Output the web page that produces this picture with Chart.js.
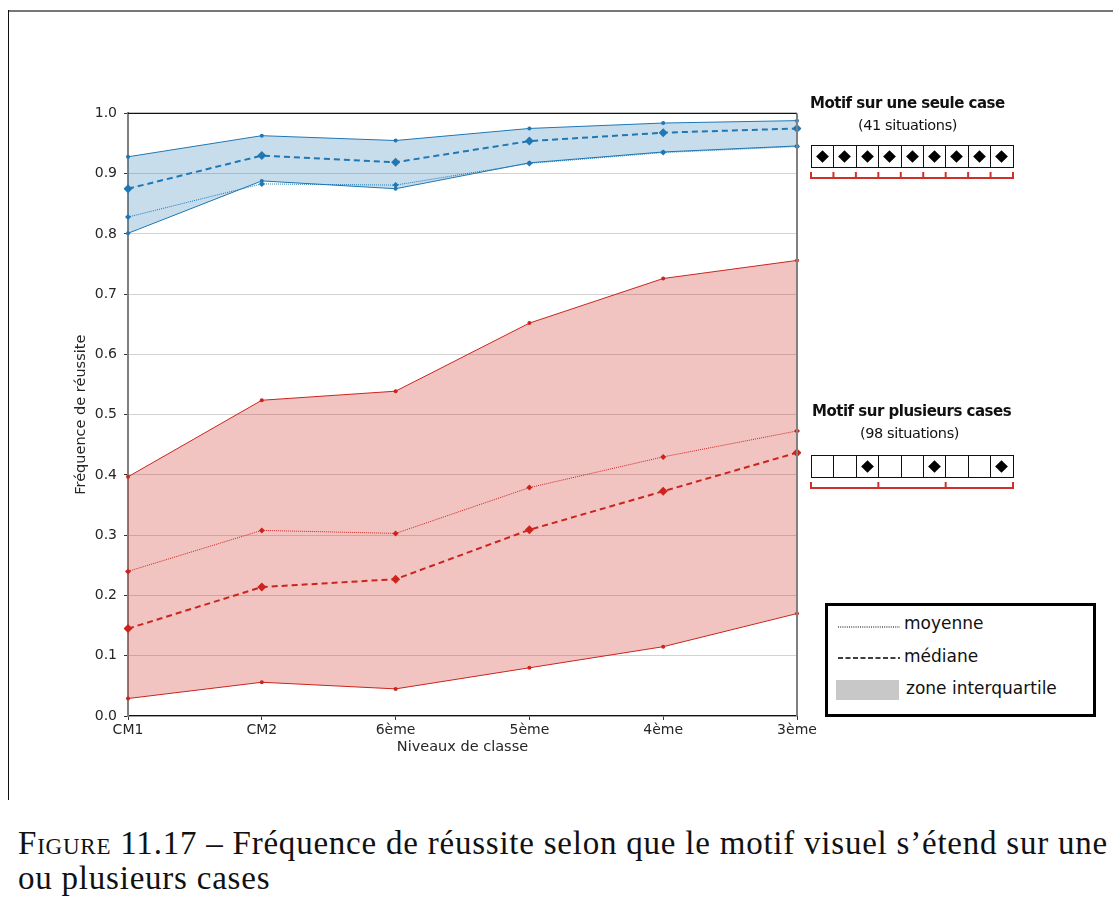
<!DOCTYPE html>
<html>
<head>
<meta charset="utf-8">
<script src="https://cdn.jsdelivr.net/npm/chart.js@4"></script>
<style>
  body { margin: 0; background: #fff; }
  #page { position: relative; width: 1113px; height: 907px; overflow: hidden; font-family: 'DejaVu Sans', sans-serif; color: #111; }
  #frameTop { position: absolute; left: 8px; top: 10px; width: 1105px; height: 2px; background: #777; }
  #frameLeft { position: absolute; left: 8px; top: 10px; width: 1px; height: 790px; background: #111; }
  #chartBox { position: absolute; left: 70px; top: 98px; width: 750px; height: 673px; }
  .title { position: absolute; font-weight: bold; font-size: 15px; letter-spacing: -0.5px; white-space: nowrap; }
  .sub { position: absolute; font-size: 14.5px; letter-spacing: -0.4px; white-space: nowrap; }
  .cells { position: absolute; display: flex; border-left: 1px solid #111; }
  .cell { width: 21.4px; height: 21px; border: 1px solid #111; border-left: none; position: relative; }
  .dia { position: absolute; left: 6px; top: 6px; width: 9px; height: 9px; background: #000; transform: rotate(45deg); }
  #legendBox { position: absolute; left: 825px; top: 603px; width: 265px; height: 108px; border: 3px solid #000; }
  .legTxt { position: absolute; font-size: 17px; white-space: nowrap; }
  #caption { position: absolute; left: 18px; top: 826px; font-family: 'Liberation Serif', serif; font-size: 33px; line-height: 35px; white-space: nowrap; color: #111; }
  .sc { font-variant: small-caps; }
</style>
</head>
<body>
<div id="page">
  <div id="frameTop"></div>
  <div id="frameLeft"></div>
  <div id="chartBox"><canvas id="myChart"></canvas></div>

  <div class="title" style="left:810px; top:94px;">Motif sur une seule case</div>
  <div class="sub" style="left:858px; top:117px;">(41 situations)</div>
  <div class="cells" id="rowOne" style="left:811px; top:145px;"></div>
  <svg id="brOne" style="position:absolute; left:805px; top:168px;" width="215" height="16"></svg>

  <div class="title" style="left:812px; top:402px;">Motif sur plusieurs cases</div>
  <div class="sub" style="left:860px; top:425px;">(98 situations)</div>
  <div class="cells" id="rowMany" style="left:811px; top:455px;"></div>
  <svg id="brMany" style="position:absolute; left:805px; top:478px;" width="215" height="16"></svg>

  <div id="legendBox">
    <svg style="position:absolute; left:8px; top:0;" width="70" height="100">
      <line x1="2" y1="21" x2="64" y2="21" stroke="#000" stroke-width="1" stroke-dasharray="1,1.2"/>
      <line x1="2" y1="52" x2="64" y2="52" stroke="#000" stroke-width="1.5" stroke-dasharray="5,2.5"/>
      <rect x="0" y="74" width="63" height="20" fill="#c8c8c8"/>
    </svg>
    <div class="legTxt" style="left:76px; top:7px;">moyenne</div>
    <div class="legTxt" style="left:76px; top:40px;">médiane</div>
    <div class="legTxt" style="left:78px; top:72px;">zone interquartile</div>
  </div>

  <div id="caption"><span id="capLine1"><span class="sc">Figure</span> 11.17 – Fréquence de réussite selon que le motif visuel s’étend sur une</span><br><span id="capLine2">ou plusieurs cases</span></div>
</div>

<script>
const levels = ['CM1', 'CM2', '6ème', '5ème', '4ème', '3ème'];

// motif sur une seule case
const uneQ1 = [0.801, 0.888, 0.875, 0.918, 0.936, 0.946];
const uneQ3 = [0.928, 0.963, 0.955, 0.975, 0.984, 0.988];
const uneMediane = [0.875, 0.930, 0.919, 0.954, 0.968, 0.975];
const uneMoyenne = [0.828, 0.883, 0.881, 0.917, 0.935, 0.945];

// motif sur plusieurs cases
const plusQ1 = [0.029, 0.056, 0.045, 0.080, 0.115, 0.170];
const plusQ3 = [0.397, 0.524, 0.539, 0.652, 0.726, 0.756];
const plusMediane = [0.145, 0.214, 0.227, 0.309, 0.373, 0.437];
const plusMoyenne = [0.240, 0.308, 0.303, 0.379, 0.430, 0.473];

const yTicks = [0, 0.1, 0.2, 0.3, 0.4, 0.5, 0.6, 0.7, 0.8, 0.9, 1.0];

const blue = 'rgb(31,119,180)';
const blueFill = 'rgba(31,119,180,0.25)';
const red = 'rgb(204,36,29)';
const redFill = 'rgba(204,36,29,0.27)';

// stretch the caption's first line to the width of the original
const cap1 = document.getElementById('capLine1');
const capW = cap1.getBoundingClientRect().width;
const nChars = cap1.textContent.length;
const ls = (1090 - capW) / nChars;
document.getElementById('caption').style.letterSpacing = ls + 'px';

// small pattern boxes at the right
function buildRow(id, marked) {
    const row = document.getElementById(id);
    for (let i = 0; i < 9; i++) {
        const cell = document.createElement('div');
        cell.className = 'cell';
        if (marked.includes(i)) {
            const d = document.createElement('div');
            d.className = 'dia';
            cell.appendChild(d);
        }
        row.appendChild(cell);
    }
}
buildRow('rowOne', [0, 1, 2, 3, 4, 5, 6, 7, 8]);
buildRow('rowMany', [2, 5, 8]);

function buildBracket(id, parts) {
    const svg = document.getElementById(id);
    const x0 = 6, w = 202;
    let s = '<line x1="' + x0 + '" y1="10" x2="' + (x0 + w) + '" y2="10" stroke="#d0302a" stroke-width="2"/>';
    for (let i = 0; i <= parts; i++) {
        const x = x0 + w * i / parts;
        s += '<line x1="' + x + '" y1="4" x2="' + x + '" y2="11" stroke="#d0302a" stroke-width="2"/>';
    }
    svg.innerHTML = s;
}
buildBracket('brOne', 9);
buildBracket('brMany', 3);

Chart.defaults.font.family = "'DejaVu Sans', sans-serif";
Chart.defaults.font.size = 14;
Chart.defaults.color = '#262626';

const spines = {
    id: 'spines',
    afterDraw(chart) {
        const { ctx, chartArea: a } = chart;
        ctx.save();
        ctx.strokeStyle = '#111';
        ctx.lineWidth = 1.2;
        ctx.beginPath();
        ctx.moveTo(a.left, a.top);
        ctx.lineTo(a.right, a.top);
        ctx.stroke();
        ctx.strokeStyle = '#808080';
        ctx.lineWidth = 2;
        ctx.beginPath();
        ctx.moveTo(a.right, a.top);
        ctx.lineTo(a.right, a.bottom);
        ctx.stroke();
        ctx.restore();
    }
};

function band(data, color, fillColor, fillTarget) {
    return {
        data: data,
        borderColor: color,
        backgroundColor: fillColor,
        borderWidth: 1,
        pointRadius: 2,
        pointBackgroundColor: color,
        pointBorderWidth: 0,
        fill: fillTarget === undefined ? false : fillTarget,
        tension: 0
    };
}

function median(data, color) {
    return {
        data: data,
        borderColor: color,
        backgroundColor: color,
        borderWidth: 2,
        borderDash: [6, 4],
        pointStyle: 'rectRot',
        pointRadius: 4.5,
        pointBorderWidth: 0,
        fill: false
    };
}

function mean(data, color) {
    return {
        data: data,
        borderColor: color,
        backgroundColor: color,
        borderWidth: 1,
        borderDash: [1, 1],
        pointStyle: 'rectRot',
        pointRadius: 3,
        pointBorderWidth: 0,
        fill: false
    };
}

const ctx = document.getElementById('myChart');

new Chart(ctx, {
    type: 'line',
    data: {
        labels: levels,
        datasets: [
            band(uneQ3, blue, blueFill, 1),
            band(uneQ1, blue, blueFill),
            median(uneMediane, blue),
            mean(uneMoyenne, blue),
            band(plusQ3, red, redFill, 5),
            band(plusQ1, red, redFill),
            median(plusMediane, red),
            mean(plusMoyenne, red)
        ]
    },
    options: {
        responsive: true,
        maintainAspectRatio: false,
        animation: false,
        layout: {
            padding: { top: 11, right: 23, left: 0, bottom: 0 }
        },
        plugins: {
            legend: { display: false },
            tooltip: { enabled: false }
        },
        scales: {
            x: {
                offset: false,
                grid: {
                    drawOnChartArea: false,
                    tickLength: 4,
                    tickColor: '#333'
                },
                border: { color: '#111', width: 1.2 },
                ticks: { padding: 2, maxRotation: 0 },
                title: {
                    display: true,
                    text: 'Niveaux de classe',
                    font: { size: 14.5 },
                    padding: { top: 0, bottom: 15 }
                },
                afterFit: (scale) => { scale.height = 55; }
            },
            y: {
                min: 0,
                max: 1,
                afterBuildTicks: (scale) => {
                    scale.ticks = yTicks.map(v => ({ value: v }));
                },
                grid: {
                    color: 'rgba(180,180,180,0.6)',
                    lineWidth: 1,
                    tickLength: 4,
                    tickColor: '#333'
                },
                border: { color: '#808080', width: 2 },
                ticks: {
                    padding: 7,
                    callback: (v) => Number(v).toFixed(1)
                },
                title: {
                    display: true,
                    text: 'Fréquence de réussite',
                    font: { size: 14.5 },
                    padding: { top: 3, bottom: 0 }
                },
                afterFit: (scale) => { scale.width = 58; }
            }
        }
    },
    plugins: [spines]
});
</script>
</body>
</html>
